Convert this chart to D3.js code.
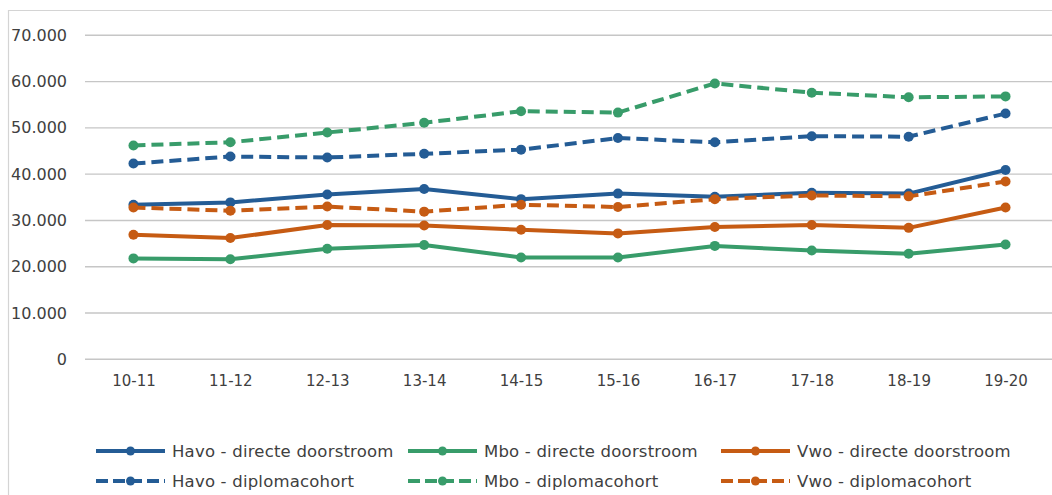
<!DOCTYPE html>
<html>
<head>
<meta charset="utf-8">
<script src="https://cdn.jsdelivr.net/npm/d3@7"></script>
<style>
  html, body { margin: 0; padding: 0; background: #fff; }
  svg { display: block; }
  text { font-family: "DejaVu Sans", sans-serif; fill: #404040; }
</style>
</head>
<body>
<svg id="chart" width="1052" height="495"></svg>
<script>
const categories = ["10-11","11-12","12-13","13-14","14-15","15-16","16-17","17-18","18-19","19-20"];
const yTicks = [0, 10000, 20000, 30000, 40000, 50000, 60000, 70000];

const havoDirect  = [33400, 33900, 35600, 36800, 34600, 35800, 35100, 36000, 35800, 40900];
const mboDirect   = [21800, 21600, 23900, 24700, 22000, 22000, 24500, 23500, 22800, 24800];
const vwoDirect   = [26900, 26200, 29000, 28900, 28000, 27200, 28600, 29000, 28400, 32800];
const havoDiploma = [42300, 43800, 43600, 44400, 45300, 47800, 46900, 48200, 48100, 53100];
const mboDiploma  = [46200, 46900, 49000, 51100, 53600, 53300, 59600, 57600, 56600, 56800];
const vwoDiploma  = [32800, 32100, 33000, 31900, 33400, 32900, 34600, 35400, 35200, 38400];

const seriesNames = [
  "Havo - directe doorstroom", "Mbo - directe doorstroom", "Vwo - directe doorstroom",
  "Havo - diplomacohort", "Mbo - diplomacohort", "Vwo - diplomacohort"
];
const seriesValues = [havoDirect, mboDirect, vwoDirect, havoDiploma, mboDiploma, vwoDiploma];
const seriesColors = ["#245C95", "#389C6A", "#C65B13", "#245C95", "#389C6A", "#C65B13"];
const seriesDashed = [false, false, false, true, true, true];

const svg = d3.select("#chart");
const locale = d3.formatLocale({decimal: ",", thousands: ".", grouping: [3], currency: ["€", ""]});
const fmt = locale.format(",");

const x = d3.scalePoint().domain(categories).range([85, 1054]).padding(0.5);
const y = d3.scaleLinear().domain([0, 70000]).range([359.3, 35.3]);

// chart border
svg.append("path")
  .attr("d", "M8.5,495 L8.5,10.5 L1052,10.5")
  .attr("fill", "none").attr("stroke", "#D4D4D4").attr("stroke-width", 1.2);

// gridlines
svg.append("g").selectAll("line").data(yTicks).join("line")
  .attr("x1", 85).attr("x2", 1052)
  .attr("y1", d => y(d)).attr("y2", d => y(d))
  .attr("stroke", "#C6C6C6").attr("stroke-width", 1.4);

// y axis labels
const yAxis = d3.axisLeft(y).tickValues(yTicks).tickFormat(d => d === 0 ? "0" : fmt(d)).tickSize(0).tickPadding(0);
const gy = svg.append("g").attr("transform", "translate(67,0)").call(yAxis);
gy.select(".domain").remove();
gy.selectAll("text").attr("font-size", 16).attr("font-family", "DejaVu Sans, sans-serif").attr("fill", "#404040");

// x axis labels
const xAxis = d3.axisBottom(x).tickSize(0).tickPadding(0);
const gx = svg.append("g").attr("transform", "translate(0,375)").call(xAxis);
gx.select(".domain").remove();
gx.selectAll("text").attr("font-size", 15).attr("font-family", "DejaVu Sans, sans-serif").attr("fill", "#404040");

// lines
const line = d3.line().x((d, i) => x(categories[i])).y(d => y(d));
const drawOrder = [4, 3, 0, 5, 2, 1];
drawOrder.forEach(si => {
  const g = svg.append("g");
  g.append("path")
    .datum(seriesValues[si])
    .attr("d", line)
    .attr("fill", "none")
    .attr("stroke", seriesColors[si])
    .attr("stroke-width", 4)
    .attr("stroke-linejoin", "round")
    .attr("stroke-dasharray", seriesDashed[si] ? "12,6" : null);
  g.selectAll("circle").data(seriesValues[si]).join("circle")
    .attr("cx", (d, i) => x(categories[i]))
    .attr("cy", d => y(d))
    .attr("r", 5)
    .attr("fill", seriesColors[si]);
});

// legend
const legendCols = [96, 408, 721];
const legendRows = [451, 481];
seriesNames.forEach((name, i) => {
  const col = i % 3, row = Math.floor(i / 3);
  const lx = legendCols[col], ly = legendRows[row];
  const g = svg.append("g").attr("transform", `translate(${lx},${ly})`);
  g.append("line").attr("x1", 0).attr("x2", 69).attr("y1", 0).attr("y2", 0)
    .attr("stroke", seriesColors[i]).attr("stroke-width", 4)
    .attr("stroke-dasharray", seriesDashed[i] ? "12,5" : null);
  g.append("circle").attr("cx", 34.5).attr("cy", 0).attr("r", 4.5).attr("fill", seriesColors[i]);
  g.append("text").attr("x", 76).attr("y", 0).attr("dy", "0.35em")
    .attr("font-size", 16.5).attr("letter-spacing", 0.2).text(name);
});
</script>
</body>
</html>
